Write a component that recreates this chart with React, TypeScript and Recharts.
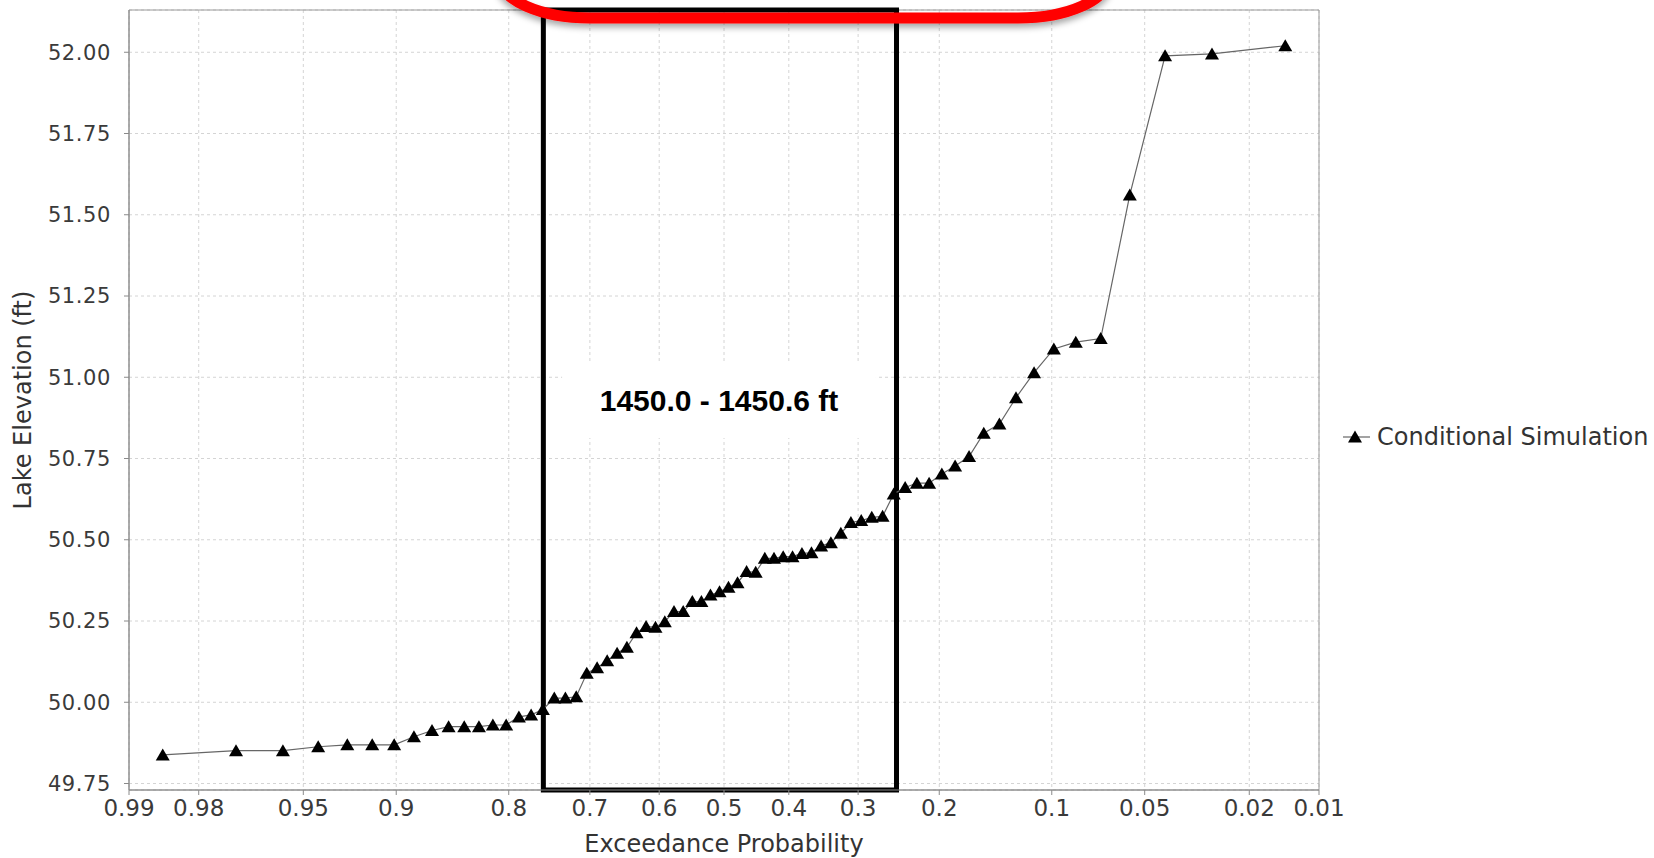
import {
  LineChart,
  Line,
  XAxis,
  YAxis,
  CartesianGrid,
  ReferenceArea,
  Label,
} from "recharts";

// exceedance probability of each simulated lake level (largest first)
const exceedance = [
  0.9859, 0.9718, 0.9577, 0.9437, 0.9296, 0.9155, 0.9014, 0.8873, 0.8732, 0.8592,
  0.8451, 0.831, 0.8169, 0.8028, 0.7887, 0.7746, 0.7606, 0.7465, 0.7324, 0.7183,
  0.7042, 0.6901, 0.6761, 0.662, 0.6479, 0.6338, 0.6197, 0.6056, 0.5915, 0.5775,
  0.5634, 0.5493, 0.5352, 0.5211, 0.507, 0.493, 0.4789, 0.4648, 0.4507, 0.4366,
  0.4225, 0.4085, 0.3944, 0.3803, 0.3662, 0.3521, 0.338, 0.3239, 0.3099, 0.2958,
  0.2817, 0.2676, 0.2535, 0.2394, 0.2254, 0.2113, 0.1972, 0.1831, 0.169, 0.1549,
  0.1408, 0.1268, 0.1127, 0.0986, 0.0845, 0.0704, 0.0563, 0.0423, 0.0282, 0.0141,
];

const elevation = [
  49.838, 49.851, 49.851, 49.863, 49.869, 49.869, 49.869, 49.894, 49.913, 49.925,
  49.925, 49.925, 49.93, 49.93, 49.955, 49.961, 49.978, 50.013, 50.013, 50.017,
  50.089, 50.106, 50.128, 50.151, 50.169, 50.214, 50.233, 50.231, 50.248, 50.279,
  50.279, 50.31, 50.31, 50.33, 50.34, 50.354, 50.368, 50.402, 50.4, 50.443,
  50.443, 50.448, 50.448, 50.458, 50.46, 50.481, 50.491, 50.52, 50.553, 50.559,
  50.569, 50.572, 50.641, 50.661, 50.674, 50.674, 50.702, 50.727, 50.756, 50.828,
  50.856, 50.937, 51.014, 51.087, 51.108, 51.119, 51.561, 51.989, 51.995, 52.02,
];

const xTickProbs = [0.99, 0.98, 0.95, 0.9, 0.8, 0.7, 0.6, 0.5, 0.4, 0.3, 0.2, 0.1, 0.05, 0.02, 0.01];
const xTickLabels = ["0.99", "0.98", "0.95", "0.9", "0.8", "0.7", "0.6", "0.5", "0.4", "0.3", "0.2", "0.1", "0.05", "0.02", "0.01"];
const yTicks = [49.75, 50.0, 50.25, 50.5, 50.75, 51.0, 51.25, 51.5, 51.75, 52.0];

const seriesName = "Conditional Simulation";
const rangeLabel = "1450.0 - 1450.6 ft";
const boxFrom = 0.76;
const boxTo = 0.25;

const FONT = "DejaVu Sans";

// inverse normal cdf (Acklam) - the axis is a normal probability scale
function probit(p: number): number {
  const a = [-39.69683028665376, 220.9460984245205, -275.9285104469687, 138.357751867269, -30.66479806614716, 2.506628277459239];
  const b = [-54.47609879822406, 161.5858368580409, -155.6989798598866, 66.80131188771972, -13.28068155288572];
  const c = [-0.007784894002430293, -0.3223964580411365, -2.400758277161838, -2.549732539343734, 4.374664141464968, 2.938163982698783];
  const d = [0.007784695709041462, 0.3224671290700398, 2.445134137142996, 3.754408661907416];
  const pl = 0.02425;
  if (p < pl) {
    const q = Math.sqrt(-2 * Math.log(p));
    return (((((c[0] * q + c[1]) * q + c[2]) * q + c[3]) * q + c[4]) * q + c[5]) / ((((d[0] * q + d[1]) * q + d[2]) * q + d[3]) * q + 1);
  }
  if (p <= 1 - pl) {
    const q = p - 0.5;
    const r = q * q;
    return ((((((a[0] * r + a[1]) * r + a[2]) * r + a[3]) * r + a[4]) * r + a[5]) * q) / (((((b[0] * r + b[1]) * r + b[2]) * r + b[3]) * r + b[4]) * r + 1);
  }
  const q = Math.sqrt(-2 * Math.log(1 - p));
  return -(((((c[0] * q + c[1]) * q + c[2]) * q + c[3]) * q + c[4]) * q + c[5]) / ((((d[0] * q + d[1]) * q + d[2]) * q + d[3]) * q + 1);
}

const toX = (exceed: number) => probit(1 - exceed);

const data = exceedance.map((p, i) => ({ p, elev: elevation[i] }));
const xTicks = xTickProbs.map(toX);
const xMin = toX(0.99);
const xMax = toX(0.01);
const yMin = 49.73;
const yMax = 52.13;

function TriangleDot(props: any) {
  const { cx, cy, index } = props;
  if (cx == null || cy == null) return <g key={`t-${index}`} />;
  return (
    <polygon
      key={`t-${index}`}
      points={`${cx},${cy - 6.5} ${cx + 7},${cy + 5.5} ${cx - 7},${cy + 5.5}`}
      fill="#000"
    />
  );
}

function RangeText(props: any) {
  const { viewBox } = props;
  if (!viewBox) return null;
  const cx = viewBox.x + viewBox.width / 2;
  const cy = viewBox.y + viewBox.height / 2;
  return (
    <text
      x={cx}
      y={cy + 11}
      textAnchor="middle"
      fontFamily="Liberation Sans, Arial, sans-serif"
      fontWeight="bold"
      fontSize={30}
      fill="#000"
    >
      {rangeLabel}
    </text>
  );
}

export default function App() {
  return (
    <div style={{ position: "absolute", left: 0, top: 0, width: 1654, height: 858, background: "#fff", overflow: "hidden" }}>
      <LineChart width={1654} height={858} data={data} margin={{ top: 10, right: 335, bottom: 0, left: 0 }}>
        <CartesianGrid stroke="#d4d4d4" strokeDasharray="3 3" />
        <XAxis
          type="number"
          dataKey={(d: any) => toX(d.p)}
          domain={[xMin, xMax]}
          ticks={xTicks}
          interval={0}
          allowDataOverflow
          height={68}
          tickFormatter={(_v: number, i: number) => xTickLabels[i]}
          tick={{ fill: "#3a3a3a", fontSize: 23, fontFamily: FONT }}
          tickSize={5}
          tickMargin={5}
          stroke="#8a8a8a"
        >
          <Label
            content={(p: any) => {
              const vb = p.viewBox;
              if (!vb) return null;
              return (
                <text x={vb.x + vb.width / 2} y={852} textAnchor="middle" fontFamily={FONT} fontSize={24} fill="#333">
                  Exceedance Probability
                </text>
              );
            }}
          />
        </XAxis>
        <YAxis
          type="number"
          dataKey="elev"
          domain={[yMin, yMax]}
          ticks={yTicks}
          interval={0}
          allowDataOverflow
          width={129}
          tickFormatter={(v: number) => v.toFixed(2)}
          tick={{ fill: "#3a3a3a", fontSize: 21, fontFamily: FONT, letterSpacing: 0.6 }}
          tickSize={5}
          tickMargin={13}
          stroke="#8a8a8a"
        >
          <Label
            content={(p: any) => {
              const vb = p.viewBox;
              if (!vb) return null;
              const cy = vb.y + vb.height / 2;
              return (
                <text transform={`translate(31,${cy}) rotate(-90)`} textAnchor="middle" fontFamily={FONT} fontSize={24} fill="#333">
                  Lake Elevation (ft)
                </text>
              );
            }}
          />
        </YAxis>
        <ReferenceArea x1={xMin} x2={xMax} y1={yMin} y2={yMax} fill="none" stroke="#9a9a9a" strokeWidth={1} ifOverflow="visible" />
        <ReferenceArea
          x1={-0.633}
          x2={0.594}
          y1={50.813}
          y2={51.047}
          fill="#fff"
          fillOpacity={1}
          stroke="none"
          ifOverflow="visible"
          label={<RangeText />}
        />
        <Line
          type="linear"
          dataKey="elev"
          name={seriesName}
          stroke="#666"
          strokeWidth={1.2}
          dot={<TriangleDot />}
          activeDot={false}
          isAnimationActive={false}
        />
        <ReferenceArea
          x1={toX(boxFrom)}
          x2={toX(boxTo)}
          y1={yMin}
          y2={yMax}
          fill="none"
          stroke="#000"
          strokeWidth={5}
          ifOverflow="visible"
        />
      </LineChart>

      <svg width={1654} height={858} style={{ position: "absolute", left: 0, top: 0, pointerEvents: "none" }}>
        <defs>
          <filter id="redShadow" x="-10%" y="-50%" width="120%" height="200%">
            <feDropShadow dx="0" dy="4" stdDeviation="3" floodColor="#000" floodOpacity="0.35" />
          </filter>
        </defs>
        <rect x={500} y={-80} width={608} height={98} rx={90} ry={40} fill="none" stroke="#ff0000" strokeWidth={11} filter="url(#redShadow)" />

        <g>
          <line x1={1343} y1={437} x2={1370} y2={437} stroke="#666" strokeWidth={1.2} />
          <polygon points="1355,430.5 1362,442.5 1348,442.5" fill="#000" />
          <text x={1377} y={437} dominantBaseline="central" fontFamily={FONT} fontSize={24} fill="#333">
            {seriesName}
          </text>
        </g>
      </svg>
    </div>
  );
}
